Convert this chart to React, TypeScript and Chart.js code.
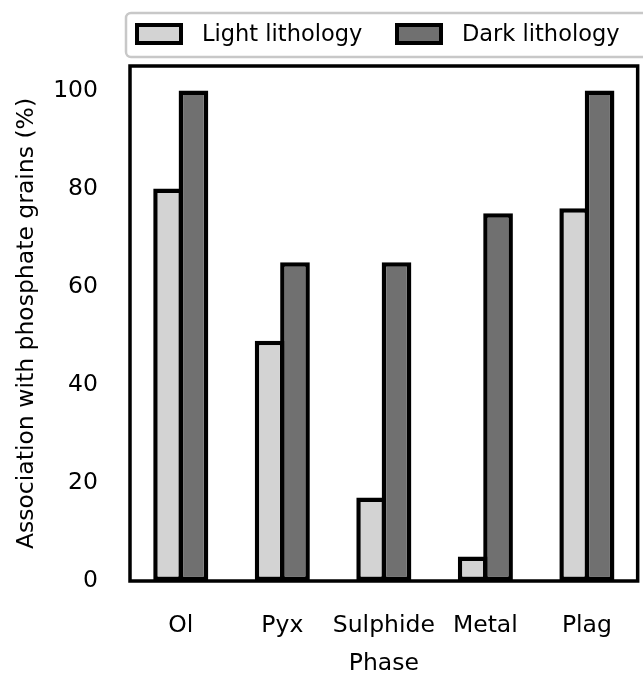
import { useEffect, useRef } from 'react';
import { Chart, registerables } from 'chart.js';

Chart.register(...registerables);

const categories = ['Ol', 'Pyx', 'Sulphide', 'Metal', 'Plag'];
const lightValues = [80, 49, 17, 5, 76];
const darkValues = [100, 65, 65, 75, 100];
const seriesLabels = ['Light lithology', 'Dark lithology'];
const yTicks = [0, 20, 40, 60, 80, 100];

const FONT = '"DejaVu Sans", sans-serif';
const AX = 23.5;

const framePlugin = {
  id: 'frame',
  afterDatasetsDraw(chart: any) {
    const { ctx, chartArea } = chart;
    ctx.save();
    ctx.strokeStyle = '#000';
    ctx.lineWidth = 3.5;
    ctx.strokeRect(chartArea.left, chartArea.top, chartArea.right - chartArea.left, chartArea.bottom - chartArea.top);
    ctx.restore();
  },
};

const legendPlugin = {
  id: 'mplLegend',
  afterDraw(chart: any) {
    const { ctx } = chart;
    ctx.save();
    const bx = 126, by = 13, bw = 540, bh = 44, r = 5;
    ctx.beginPath();
    ctx.moveTo(bx + r, by);
    ctx.lineTo(bx + bw - r, by);
    ctx.arcTo(bx + bw, by, bx + bw, by + r, r);
    ctx.lineTo(bx + bw, by + bh - r);
    ctx.arcTo(bx + bw, by + bh, bx + bw - r, by + bh, r);
    ctx.lineTo(bx + r, by + bh);
    ctx.arcTo(bx, by + bh, bx, by + bh - r, r);
    ctx.lineTo(bx, by + r);
    ctx.arcTo(bx, by, bx + r, by, r);
    ctx.closePath();
    ctx.fillStyle = 'rgba(255,255,255,0.8)';
    ctx.fill();
    ctx.strokeStyle = '#c8c8c8';
    ctx.lineWidth = 2.5;
    ctx.stroke();

    const items = chart.data.datasets;
    const swatchX = [137, 397];
    const textX = [202, 462];
    items.forEach((ds: any, i: number) => {
      ctx.fillStyle = ds.backgroundColor;
      ctx.fillRect(swatchX[i], 25, 44, 18);
      ctx.strokeStyle = '#000';
      ctx.lineWidth = 4;
      ctx.strokeRect(swatchX[i], 25, 44, 18);
      ctx.fillStyle = '#000';
      ctx.font = `22.5px ${FONT}`;
      ctx.textBaseline = 'middle';
      ctx.textAlign = 'left';
      ctx.fillText(ds.label, textX[i], 35);
    });
    ctx.restore();
  },
};

export default function App() {
  const ref = useRef<HTMLCanvasElement | null>(null);

  useEffect(() => {
    document.body.style.margin = '0';
    if (!ref.current) return;
    const chart = new Chart(ref.current, {
      type: 'bar',
      data: {
        labels: categories,
        datasets: [
          {
            label: seriesLabels[0],
            data: lightValues,
            backgroundColor: '#d3d3d3',
            borderColor: '#000',
            borderWidth: 4.5,
            borderSkipped: false,
            categoryPercentage: 0.5,
            barPercentage: 1.17,
          },
          {
            label: seriesLabels[1],
            data: darkValues,
            backgroundColor: '#707070',
            borderColor: '#000',
            borderWidth: 4.5,
            borderSkipped: false,
            categoryPercentage: 0.5,
            barPercentage: 1.17,
          },
        ],
      },
      options: {
        animation: false,
        responsive: false,
        maintainAspectRatio: false,
        layout: { padding: { top: 66, right: 1, left: 0, bottom: 0 } },
        plugins: {
          legend: { display: false },
          tooltip: { enabled: false },
        },
        scales: {
          x: {
            grid: { display: false, drawTicks: false },
            border: { display: false },
            ticks: {
              color: '#000',
              font: { family: FONT, size: AX },
              padding: 31,
              maxRotation: 0,
              minRotation: 0,
              autoSkip: false,
            },
            title: {
              display: true,
              text: 'Phase',
              color: '#000',
              font: { family: FONT, size: AX, lineHeight: 1 },
              padding: { top: 0, bottom: 0 },
            },
            afterFit(scale: any) {
              scale.height = 95;
            },
          },
          y: {
            min: 0,
            max: 105,
            grid: { display: false, drawTicks: false },
            border: { display: false },
            ticks: {
              color: '#000',
              font: { family: FONT, size: AX },
              padding: 32,
              autoSkip: false,
            },
            afterBuildTicks(scale: any) {
              scale.ticks = yTicks.map((v) => ({ value: v }));
            },
            title: {
              display: true,
              text: 'Association with phosphate grains (%)',
              color: '#000',
              font: { family: FONT, size: AX, lineHeight: 1.2 },
              padding: { top: 13, bottom: 0 },
            },
            afterFit(scale: any) {
              scale.width = 130;
            },
          },
        },
      },
      plugins: [framePlugin, legendPlugin],
    });
    return () => chart.destroy();
  }, []);

  return (
    <div style={{ width: 643, height: 676 }}>
      <canvas ref={ref} width={643} height={676} style={{ width: 643, height: 676, display: 'block' }} />
    </div>
  );
}
